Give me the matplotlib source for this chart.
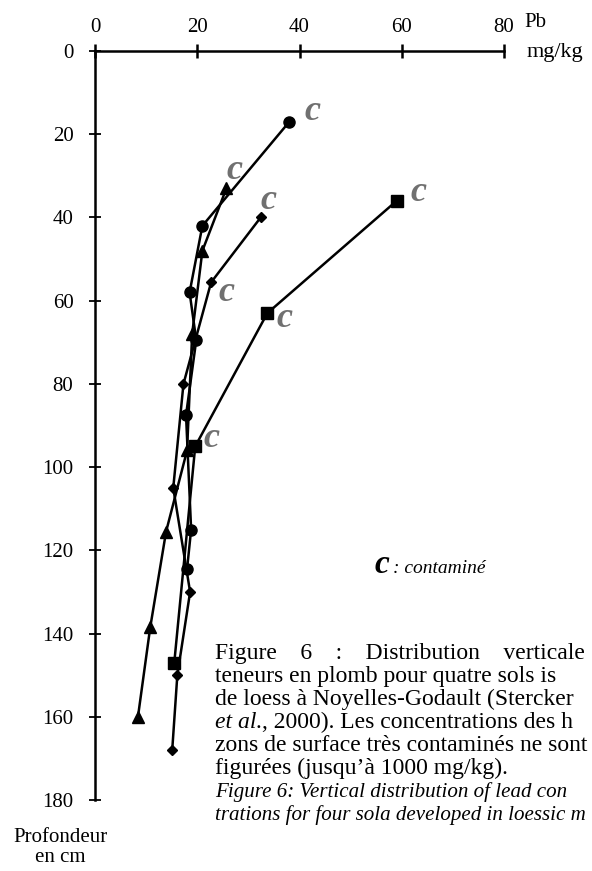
import matplotlib
matplotlib.use('Agg')
import matplotlib.pyplot as plt

# Pb (mg/kg) vs depth (cm), four soils
circle_pb = [38, 21, 18.5, 19.8, 17.8, 18.8, 18.0]
circle_depth = [17, 42, 58, 69.5, 87.5, 115, 124.5]
tri_pb = [25.7, 21, 19, 18, 13.9, 10.8, 8.4]
tri_depth = [33, 48, 68, 96, 115.5, 138.5, 160]
dia_pb = [32.4, 22.7, 17.3, 15.3, 18.6, 16.1, 15.1]
dia_depth = [40, 55.6, 80, 105, 130, 150, 168]
sq_pb = [59, 33.7, 19.6, 15.5]
sq_depth = [36, 63, 95, 147]

x_ticks = [0, 20, 40, 60, 80]
y_ticks = [0, 20, 40, 60, 80, 100, 120, 140, 160, 180]

# caption, as far as it is visible in the (cropped) page
caption = ["Figure    6    :    Distribution    verticale",
           "teneurs en plomb pour quatre sols is",
           "de loess à Noyelles-Godault (Stercker",
           ", 2000). Les concentrations des h",
           "zons de surface très contaminés ne sont",
           "figurées (jusqu\u2019à 1000 mg/kg)."]
caption_en = ["Figure 6: Vertical distribution of lead con",
              "trations for four sola developed in loessic m"]

plt.rcParams['font.family'] = 'Liberation Serif'

fig = plt.figure(figsize=(5.92, 8.71), dpi=100)
ax = fig.add_axes([0.1605, 0.0815, 0.6909, 0.8599])

lw = 1.8
ax.plot(circle_pb, circle_depth, 'k-o', lw=lw, ms=8, clip_on=False)
ax.plot(tri_pb, tri_depth, 'k-^', lw=lw, ms=8, clip_on=False)
ax.plot(dia_pb, dia_depth, 'k-D', lw=lw, ms=5.5, clip_on=False)
ax.plot(sq_pb, sq_depth, 'k-s', lw=lw, ms=8, clip_on=False)

ax.set_xlim(0, 80)
ax.set_ylim(180, 0)
ax.set_xticks(x_ticks)
ax.set_yticks(y_ticks)
ax.xaxis.tick_top()
ax.spines['right'].set_visible(False)
ax.spines['bottom'].set_visible(False)
ax.spines['top'].set_linewidth(1.8)
ax.spines['left'].set_linewidth(1.8)
ax.tick_params(axis='x', direction='inout', length=10, width=1.8, pad=5, labelsize=15)
ax.tick_params(axis='y', direction='inout', length=9, width=1.3, pad=11, labelsize=15)

# contaminated horizons
cstyle = dict(textcoords='offset pixels', color='#707070', fontsize=26,
              fontweight='bold', fontstyle='italic', ha='center', va='center')
ax.annotate('c', (circle_pb[0], circle_depth[0]), xytext=(23, 10), **cstyle)
ax.annotate('c', (tri_pb[0], tri_depth[0]), xytext=(8, 18), **cstyle)
ax.annotate('c', (dia_pb[0], dia_depth[0]), xytext=(8, 17), **cstyle)
ax.annotate('c', (sq_pb[0], sq_depth[0]), xytext=(22, 8), **cstyle)
ax.annotate('c', (dia_pb[1], dia_depth[1]), xytext=(15, -10), **cstyle)
ax.annotate('c', (sq_pb[1], sq_depth[1]), xytext=(17, -5), **cstyle)
ax.annotate('c', (sq_pb[2], sq_depth[2]), xytext=(16, 8), **cstyle)

fig.text(0.905, 0.974, 'Pb', fontsize=15, ha='center', va='center')
fig.text(0.937, 0.940, 'mg/kg', fontsize=16, ha='center', va='center')
fig.text(0.102, 0.039, 'Profondeur', fontsize=15, ha='center', va='center')
fig.text(0.102, 0.015, 'en cm', fontsize=15, ha='center', va='center')

fig.text(0.633, 0.342, 'c', fontsize=24, fontweight='bold', fontstyle='italic',
         ha='left', va='baseline')
fig.text(0.664, 0.342, ': contaminé', fontsize=14, fontstyle='italic',
         ha='left', va='baseline')

fs = 17
fs_it = 15.1
x0 = 215 / 592
renderer = fig.canvas.get_renderer()
for i, line in enumerate(caption):
    y = 1 - (659 + 23 * i) / 871
    if i == 3:
        t = fig.text(x0, y, 'et al.', fontsize=fs, fontstyle='italic', ha='left', va='baseline')
        x1 = fig.transFigure.inverted().transform(t.get_window_extent(renderer))[1, 0]
        fig.text(x1, y, line, fontsize=fs, ha='left', va='baseline')
    else:
        fig.text(x0, y, line, fontsize=fs, ha='left', va='baseline')
for i, line in enumerate(caption_en):
    y = 1 - (659 + 23 * (6 + i)) / 871
    fig.text(x0, y, line, fontsize=fs_it, fontstyle='italic', ha='left', va='baseline')

fig.savefig('out.png', dpi=100)
